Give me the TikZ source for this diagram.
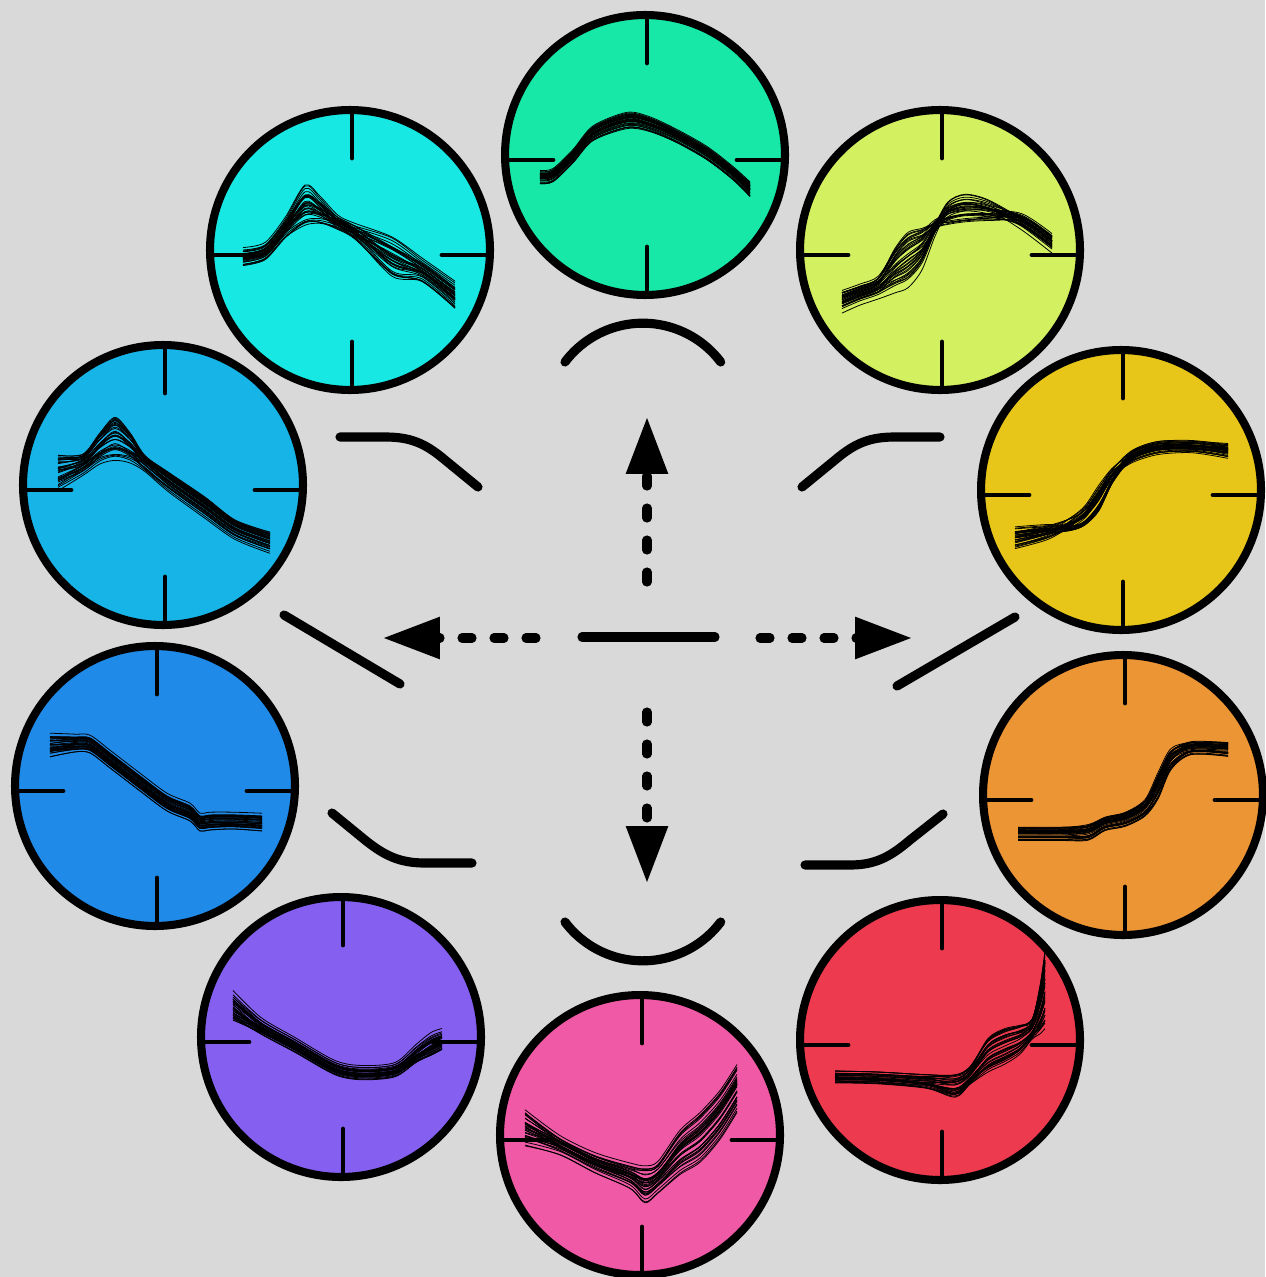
\documentclass[tikz,border=0pt]{standalone}
\usetikzlibrary{arrows.meta}
\definecolor{bggray}{HTML}{D9D9D9}
\definecolor{mint}{HTML}{17E8A8}
\definecolor{lime}{HTML}{D2F060}
\definecolor{gold}{HTML}{E8C619}
\definecolor{amber}{HTML}{EC9535}
\definecolor{crimson}{HTML}{EE3A4E}
\definecolor{rose}{HTML}{F059A5}
\definecolor{lilac}{HTML}{8560F0}
\definecolor{azure}{HTML}{1F8AE8}
\definecolor{sky}{HTML}{17B4E8}
\definecolor{aqua}{HTML}{17E8E3}
\begin{document}
\begin{tikzpicture}[x=0.02cm, y=-0.02cm,
  dial/.style={circle, draw=black, line width=4.6pt, minimum size=5.6cm, inner sep=0pt},
  tick/.style={line width=2.8pt, line cap=round},
  trace/.style={line width=0.45pt, black},
  glyph/.style={line width=5.2pt, line cap=round},
  darrow/.style={line width=5.2pt, line cap=round, dash pattern=on 0.2cm off 0.44cm, -{Triangle[length=1.14cm, width=0.8cm]}}]
\useasboundingbox (0,0) rectangle (1265,1277);
\fill[bggray] (0,0) rectangle (1265,1277);
\pgfmathsetseed{7}
\node[dial, fill=mint] (c1) at (645,155) {};
\node[dial, fill=lime] (c2) at (940,250) {};
\node[dial, fill=gold] (c3) at (1121,490) {};
\node[dial, fill=amber] (c4) at (1123,795) {};
\node[dial, fill=crimson] (c5) at (940,1040) {};
\node[dial, fill=rose] (c6) at (640,1135) {};
\node[dial, fill=lilac] (c7) at (341,1037) {};
\node[dial, fill=azure] (c8) at (155,786) {};
\node[dial, fill=sky] (c9) at (163,485) {};
\node[dial, fill=aqua] (c10) at (350,250) {};
\foreach \c in {c1,c2,c3,c4,c5,c6,c7,c8,c9,c10}
  \draw[tick, shift={(\c)}] (2,-138) -- (2,-92) (2,92) -- (2,138) (-138,5) -- (-92,5) (92,5) -- (138,5);
\begin{scope}[shift={(c1)}]
\foreach \t in {0,0.03,...,1}
  \draw[trace, yshift=rand*3pt] plot[smooth] coordinates {(-105,{19+8*\t}) (-92,{17+8*\t}) (-72,{-2+8*\t}) (-52,{-26+10*\t}) (-18,{-40+12*\t}) (5,{-35+10*\t}) (32,{-22+8*\t}) (62,{-5+8*\t}) (88,{15+8*\t}) (105,{30+10*\t})};
\end{scope}
\begin{scope}[shift={(c2)}]
\foreach \t in {0,0.03,...,1}
  \draw[trace, yshift=rand*3pt] plot[smooth] coordinates {(-98,{42+16*\t}) (-80,{36+14*\t}) (-62,{28+16*\t}) (-45,{-2+40*\t}) (-32,{-18+51*\t}) (-18,{-22+37*\t}) (-5,{-27+8*\t}) (8,{-28-16*\t}) (25,{-30-22*\t}) (48,{-32-14*\t}) (82,{-33+8*\t}) (112,{-14+12*\t})};
\end{scope}
\begin{scope}[shift={(c3)}]
\foreach \t in {0,0.03,...,1}
  \draw[trace, yshift=rand*3pt] plot[smooth] coordinates {(-106,{55-17*\t}) (-73,{45-9*\t}) (-50,{30+8*\t}) (-36,{18+16*\t}) (-22,{-3+23*\t}) (-8,{-20+10*\t}) (11,{-32-5*\t}) (37,{-40-7*\t}) (71,{-42-5*\t}) (107,{-36-9*\t})};
\end{scope}
\begin{scope}[shift={(c4)}]
\foreach \t in {0,0.03,...,1}
  \draw[trace, yshift=rand*3pt] plot[smooth] coordinates {(-105,{33+9*\t}) (-62,{33+9*\t}) (-35,{30+12*\t}) (-18,{23+9*\t}) (2,{18+10*\t}) (22,{5+13*\t}) (35,{-22+24*\t}) (48,{-46+18*\t}) (68,{-52+8*\t}) (105,{-52+10*\t})};
\end{scope}
\begin{scope}[shift={(c5)}]
\foreach \t in {0,0.03,...,1}
  \draw[trace, yshift=rand*3pt] plot[smooth] coordinates {(-105,{34+8*\t}) (-62,{35+8*\t}) (-15,{37+11*\t}) (15,{35+23*\t}) (30,{28+17*\t}) (48,{-2+35*\t}) (65,{-12+37*\t}) (80,{-15+30*\t}) (92,{-20+20*\t}) (100,{-55+50*\t}) (105,{-90+80*\t})};
\end{scope}
\begin{scope}[shift={(c6)}]
\foreach \t in {0,0.03,...,1}
  \draw[trace, yshift=rand*3pt] plot[smooth] coordinates {(-115,{-22+30*\t}) (-80,{5+11*\t}) (-45,{22+12*\t}) (-10,{32+18*\t}) (5,{34+31*\t}) (18,{30+25*\t}) (40,{-2+39*\t}) (60,{-20+45*\t}) (80,{-42+44*\t}) (97,{-68+43*\t})};
\end{scope}
\begin{scope}[shift={(c7)}]
\foreach \t in {0,0.03,...,1}
  \draw[trace, yshift=rand*3pt] plot[smooth] coordinates {(-108,{-42+27*\t}) (-80,{-15+12*\t}) (-46,{5+9*\t}) (-6,{28+8*\t}) (21,{33+8*\t}) (54,{30+8*\t}) (75,{12+14*\t}) (90,{0+20*\t}) (101,{-4+18*\t})};
\end{scope}
\begin{scope}[shift={(c8)}]
\foreach \t in {0,0.03,...,1}
  \draw[trace, yshift=rand*3pt] plot[smooth] coordinates {(-105,{-48+16*\t}) (-80,{-47+10*\t}) (-65,{-46+10*\t}) (-45,{-31+10*\t}) (-15,{-8+10*\t}) (12,{12+10*\t}) (35,{22+10*\t}) (45,{32+10*\t}) (55,{31+10*\t}) (78,{31+9*\t}) (107,{32+10*\t})};
\end{scope}
\begin{scope}[shift={(c9)}]
\foreach \t in {0,0.03,...,1}
  \draw[trace, yshift=rand*3pt] plot[smooth] coordinates {(-105,{-28+30*\t}) (-80,{-28+14*\t}) (-63,{-50+25*\t}) (-48,{-66+38*\t}) (-33,{-50+24*\t}) (-18,{-26+8*\t}) (5,{-10+12*\t}) (42,{15+14*\t}) (72,{38+12*\t}) (107,{50+14*\t})};
\end{scope}
\begin{scope}[shift={(c10)}]
\foreach \t in {0,0.03,...,1}
  \draw[trace, yshift=rand*3pt] plot[smooth] coordinates {(-107,{2+11*\t}) (-85,{-3+10*\t}) (-65,{-28+14*\t}) (-45,{-62+36*\t}) (-30,{-50+22*\t}) (-12,{-30+6*\t}) (5,{-22+8*\t}) (42,{-10+35*\t}) (72,{12+18*\t}) (105,{35+22*\t})};
\end{scope}
\draw[glyph] (565,362) arc[start angle=143, end angle=37, radius=1.95cm];
\draw[glyph] (565,922) arc[start angle=217, end angle=323, radius=1.95cm];
\draw[glyph] (340,437) -- (385,437) .. controls (410,437) and (425,443) .. (445,460) -- (478,487);
\draw[glyph] (940,437) -- (895,437) .. controls (870,437) and (855,443) .. (835,460) -- (802,487);
\draw[glyph] (284,615) -- (400,684);
\draw[glyph] (897,686) -- (1015,617);
\draw[glyph] (332,813) -- (365,840) .. controls (385,856) and (400,863) .. (425,863) -- (472,863);
\draw[glyph] (805,865) -- (850,865) .. controls (875,865) and (890,857) .. (910,840) -- (943,814);
\draw[glyph] (582,637) -- (715,637);
\coordinate (upA) at (647,582);
\coordinate (upB) at (647,417);
\coordinate (dnA) at (647,712);
\coordinate (dnB) at (647,883);
\coordinate (lfA) at (536,638);
\coordinate (lfB) at (383,638);
\coordinate (rtA) at (760,638);
\coordinate (rtB) at (912,638);
\draw[darrow] (upA) -- (upB);
\draw[darrow] (dnA) -- (dnB);
\draw[darrow] (lfA) -- (lfB);
\draw[darrow] (rtA) -- (rtB);
\end{tikzpicture}
\end{document}
